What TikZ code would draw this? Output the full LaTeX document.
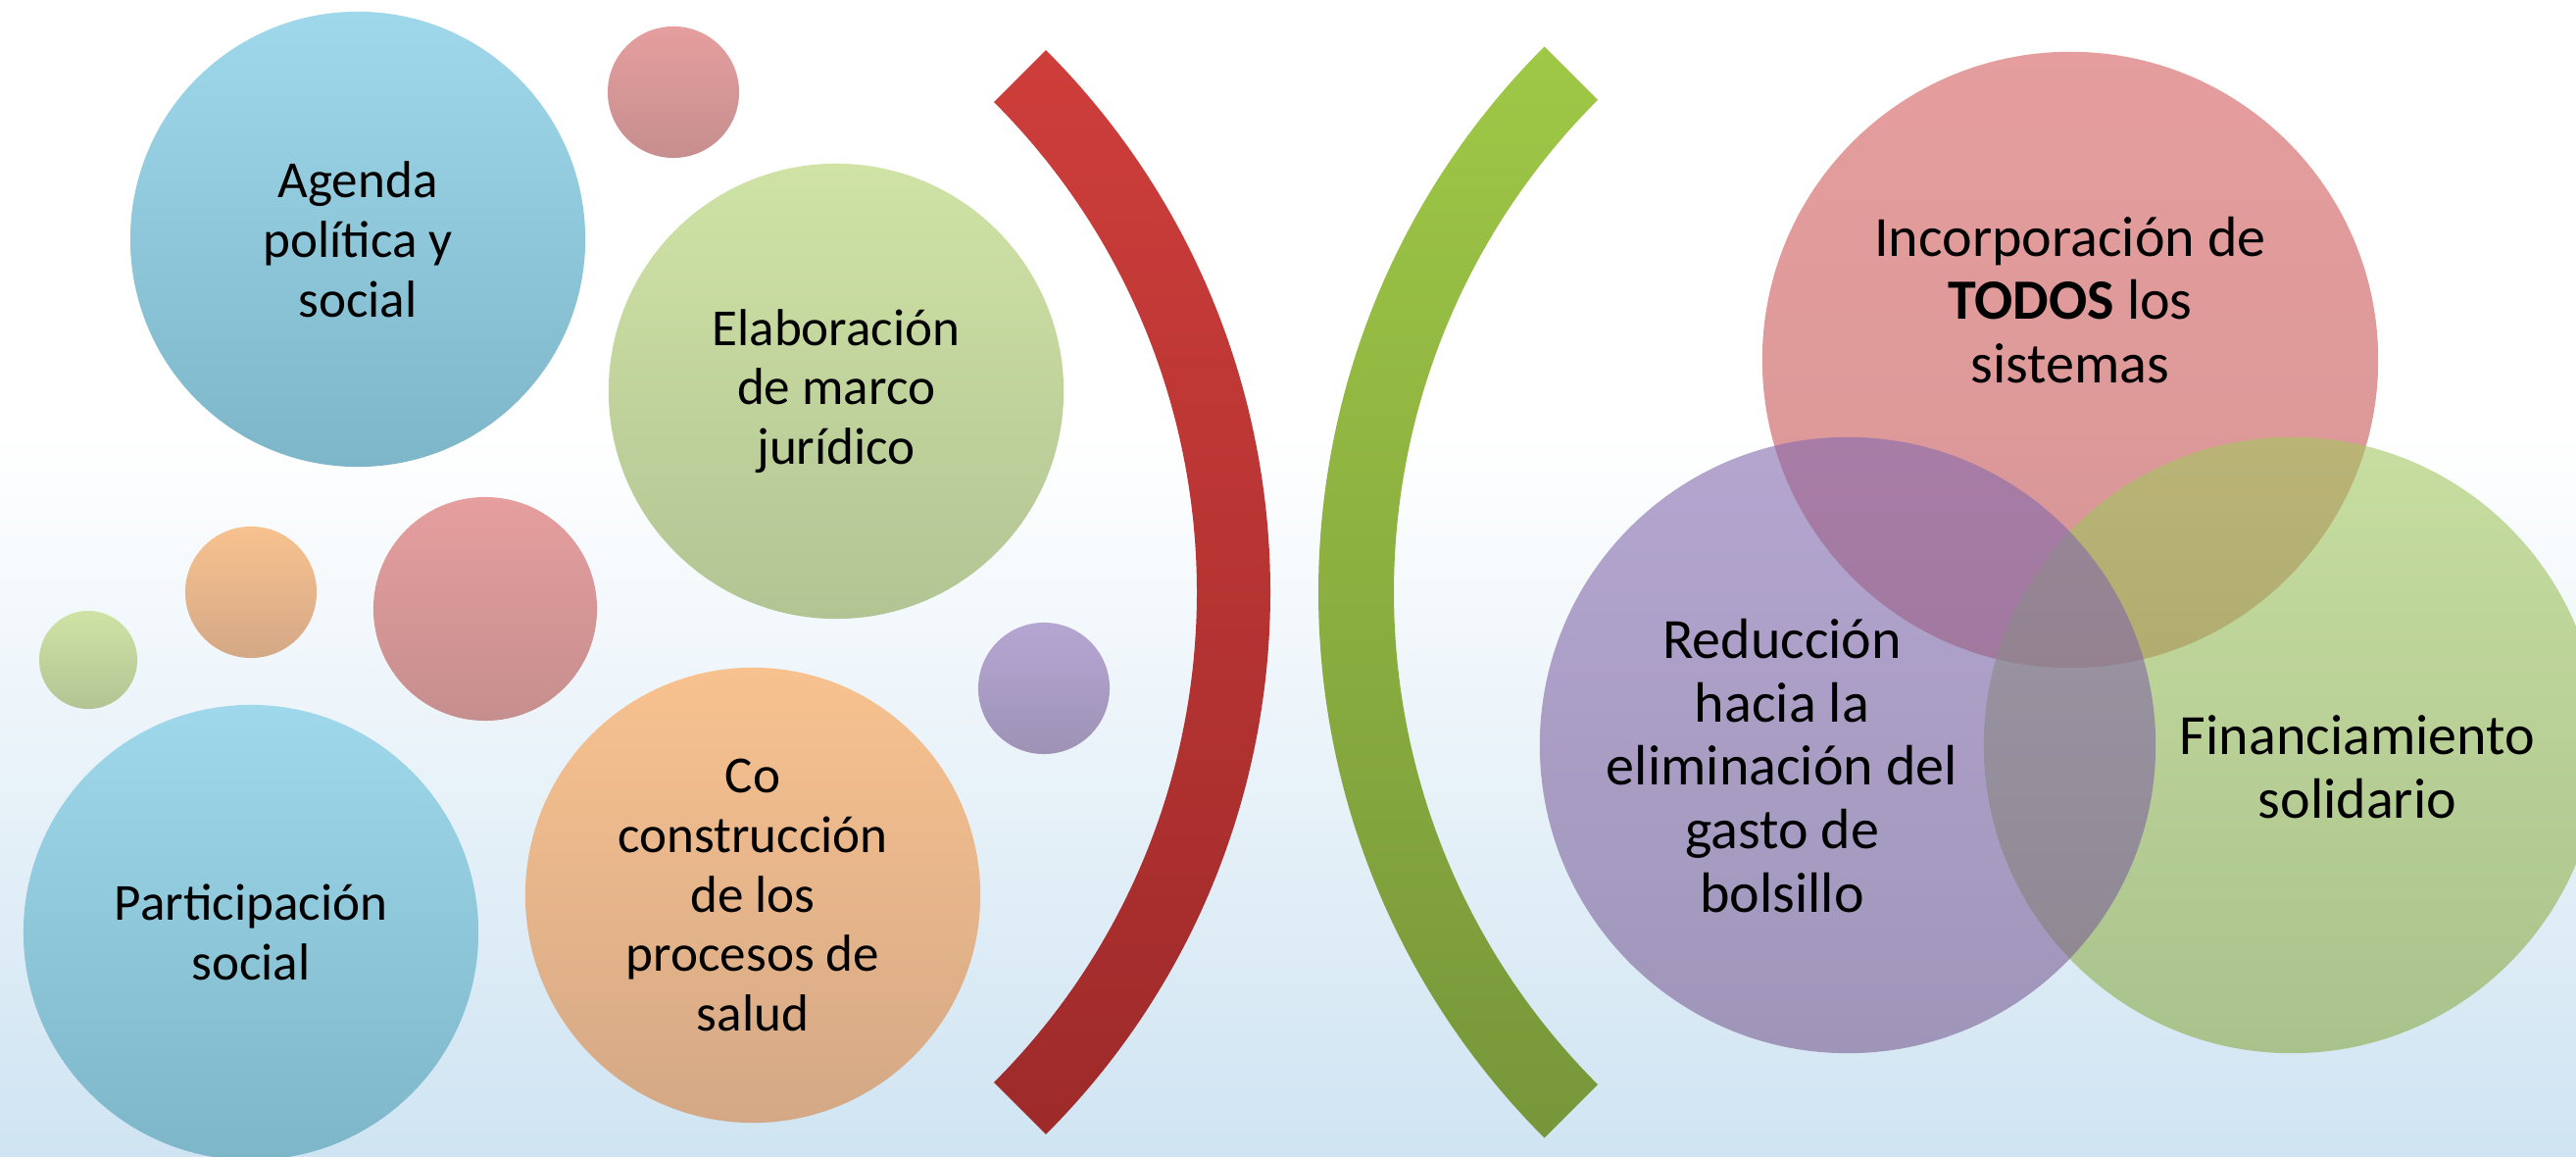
\documentclass[tikz,border=0pt]{standalone}
\usepackage{fontspec}
\setmainfont{Carlito}
\usepackage{tikz}
\usetikzlibrary{backgrounds}
\definecolor{bgbot}{RGB}{207,228,242}
\definecolor{skytop}{RGB}{158,216,234}
\definecolor{skybot}{RGB}{125,182,200}
\definecolor{leaftop}{RGB}{208,227,165}
\definecolor{leafbot}{RGB}{178,196,147}
\definecolor{rosetop}{RGB}{230,158,158}
\definecolor{rosebot}{RGB}{198,142,142}
\definecolor{peachtop}{RGB}{248,194,143}
\definecolor{peachbot}{RGB}{212,168,134}
\definecolor{lilactop}{RGB}{181,166,210}
\definecolor{lilacbot}{RGB}{158,146,182}
\definecolor{arcredtop}{RGB}{206,62,59}
\definecolor{arcredbot}{RGB}{158,42,42}
\definecolor{arcgrntop}{RGB}{159,200,70}
\definecolor{arcgrnbot}{RGB}{119,150,58}
\definecolor{vredtop}{RGB}{212,92,92}
\definecolor{vredbot}{RGB}{192,82,82}
\definecolor{vlilactop}{RGB}{132,107,177}
\definecolor{vlilacbot}{RGB}{123,95,147}
\definecolor{vgrntop}{RGB}{163,200,97}
\definecolor{vgrnbot}{RGB}{140,170,72}
\tikzstyle{bubble}=[circle, inner sep=0pt, align=center, font=\fontsize{15.1}{17.3}\selectfont]
\tikzstyle{big}=[minimum size=4.64cm]
\tikzstyle{mid}=[minimum size=2.28cm]
\tikzstyle{small}=[minimum size=1.34cm]
\tikzstyle{tiny}=[minimum size=1cm]
\tikzstyle{skyfill}=[top color=skytop, bottom color=skybot]
\tikzstyle{leaffill}=[top color=leaftop, bottom color=leafbot]
\tikzstyle{rosefill}=[top color=rosetop, bottom color=rosebot]
\tikzstyle{peachfill}=[top color=peachtop, bottom color=peachbot]
\tikzstyle{lilacfill}=[top color=lilactop, bottom color=lilacbot]
\tikzstyle{venn}=[circle, inner sep=0pt, minimum size=6.28cm, fill opacity=0.6]
\tikzstyle{venntxt}=[align=center, inner sep=0pt, font=\fontsize{16.5}{18.4}\selectfont]

\begin{document}
\begin{tikzpicture}[x=0.01cm, y=-0.01cm]
	\useasboundingbox (0,0) rectangle (2628,1180);
	% background
	\fill[white] (0,0) rectangle (2628,440);
	\shade[top color=white, bottom color=bgbot] (0,440) rectangle (2628,1180);

	% left bubbles
	\draw (365,244) node[bubble, big, skyfill] (agenda) {Agenda\\política y\\social};
	\draw (687,94) node[bubble, small, rosefill] (dotrose) {};
	\draw (853,399) node[bubble, big, leaffill] (marco) {Elaboración\\de marco\\jurídico};
	\draw (90,673) node[bubble, tiny, leaffill] (dotleaf) {};
	\draw (256,604) node[bubble, small, peachfill] (dotpeach) {};
	\draw (495,621) node[bubble, mid, rosefill] (midrose) {};
	\draw (1065,702) node[bubble, small, lilacfill] (dotlilac) {};
	\draw (256,951) node[bubble, big, skyfill] (particip) {Participación\\social};
	\draw (768,913) node[bubble, big, peachfill] (coconst) {Co\\construcción\\de los\\procesos de\\salud};

	% brackets
	\shade[top color=arcredtop, bottom color=arcredbot]
		([shift={(514,604)}]-45:782) arc[start angle=-45, end angle=45, radius=782]
		-- ([shift={(514,604)}]45:707) arc[start angle=45, end angle=-45, radius=707] -- cycle;
	\shade[top color=arcgrntop, bottom color=arcgrnbot]
		([shift={(2132,604)}]225:787) arc[start angle=225, end angle=135, radius=787]
		-- ([shift={(2132,604)}]135:710) arc[start angle=135, end angle=225, radius=710] -- cycle;

	% venn
	\draw (2112,367) node[venn, top color=vredtop, bottom color=vredbot] (todos) {};
	\draw (2338,760) node[venn, top color=vgrntop, bottom color=vgrnbot] (financ) {};
	\draw (1885,760) node[venn, top color=vlilactop, bottom color=vlilacbot] (gasto) {};
	\draw (2112,306) node[venntxt] (todostxt) {Incorporación de\\\textbf{TODOS} los\\sistemas};
	\draw (1818,781) node[venntxt] (gastotxt) {Reducción\\hacia la\\eliminación del\\gasto de\\bolsillo};
	\draw (2405,782) node[venntxt] (financtxt) {Financiamiento\\solidario};
\end{tikzpicture}
\end{document}
